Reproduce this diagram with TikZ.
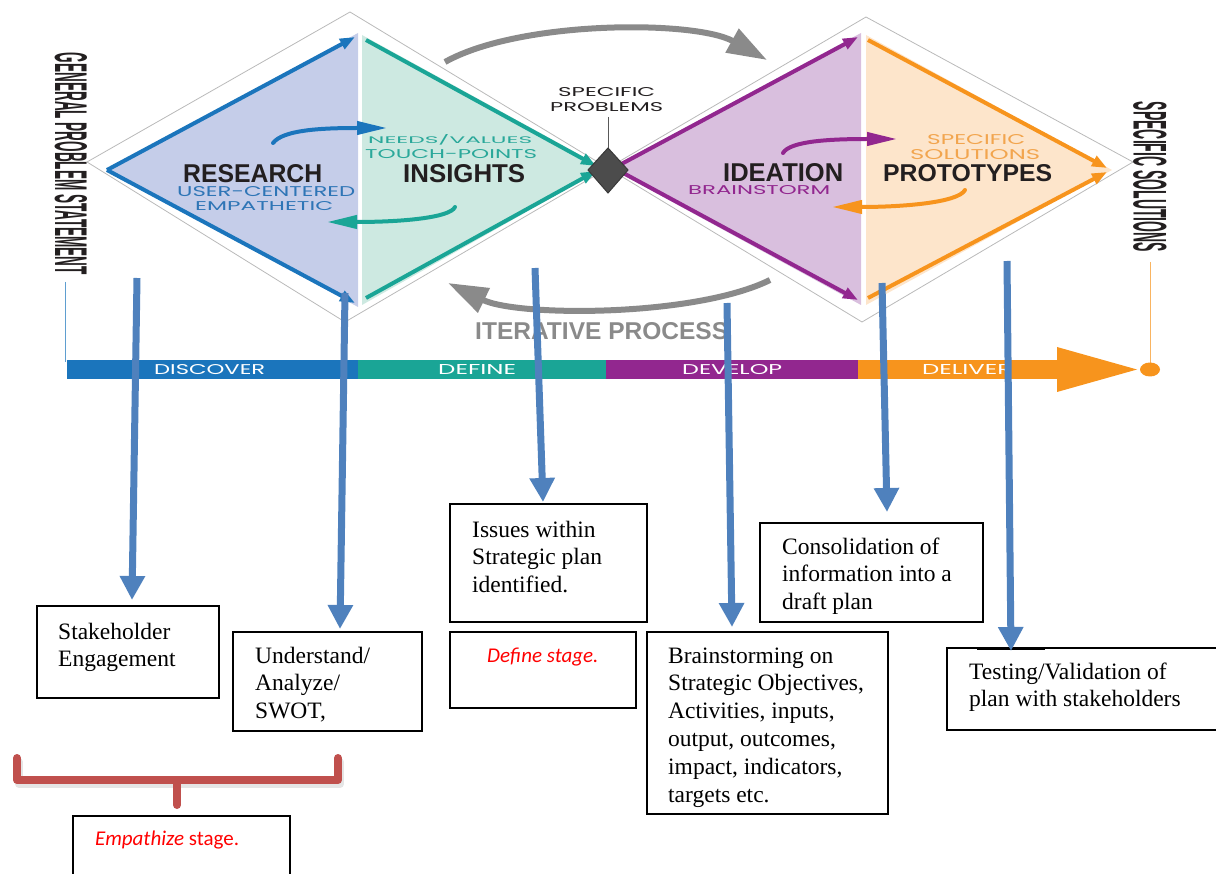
\documentclass[tikz,border=0pt]{standalone}
\usepackage{fontspec}
\usepackage{graphicx}
\setmainfont{Liberation Serif}
\newfontfamily\hdfont{Liberation Sans}
\newfontfamily\geofont{Poppins}
\newfontfamily\calfont{Carlito}
\usetikzlibrary{arrows.meta}
\definecolor{cblue}{HTML}{1B75BC}
\definecolor{cteal}{HTML}{1AA596}
\definecolor{cpurple}{HTML}{92278F}
\definecolor{corange}{HTML}{F7941D}
\definecolor{fblue}{HTML}{C5CDE9}
\definecolor{fteal}{HTML}{CDE9E1}
\definecolor{fpurple}{HTML}{D9BFDE}
\definecolor{forange}{HTML}{FDE5CB}
\definecolor{lblue}{HTML}{2E75B6}
\definecolor{lteal}{HTML}{2AA89A}
\definecolor{lorange}{HTML}{F2A54E}
\definecolor{arrowblue}{HTML}{4F81BD}
\definecolor{itergray}{HTML}{8A8A8A}
\definecolor{darktext}{HTML}{231F20}
\definecolor{redtext}{HTML}{FF0000}
\definecolor{bracketred}{HTML}{C0504D}
\newcommand{\fitcap}[3]{\resizebox{#1pt}{#2pt}{#3}}
\newcommand{\stacklines}[1]{\vtop{\halign{##\hfil\cr#1\crcr}}}
\begin{document}
\begin{tikzpicture}[x=1pt,y=-1pt,
  outline/.style={draw=gray!55,line width=0.8pt},
  triline/.style={line width=4pt,-{Triangle[width=11pt,length=15pt]}},
  curvearrow/.style={line width=4pt,line cap=round,-{Triangle[width=13pt,length=30pt]}},
  iterarrow/.style={draw=itergray,line width=6pt,-{Triangle[width=26pt,length=40pt]}},
  bigarrow/.style={draw=arrowblue,line width=7pt,-{Triangle[width=24pt,length=24pt]}},
  box/.style={draw=black,line width=1.6pt,fill=white,inner sep=0pt},
  lbl/.style={inner sep=0pt,anchor=base west},
  boxtext/.style={inner sep=0pt,anchor=base west,font=\fontsize{23.5}{27.8}\selectfont},
  redtxt/.style={inner sep=0pt,anchor=base west,text=redtext,font=\calfont\fontsize{21}{25}\selectfont},
  bracket/.style={draw=bracketred,line width=8pt,line cap=round,line join=round}]
\useasboundingbox (0,0) rectangle (1216,874);

% outer diamonds
\coordinate (oL) at (87,162);
\coordinate (oT) at (350,12);
\coordinate (oB) at (345,322);
\coordinate (oC) at (608,168);
\coordinate (oT2) at (866,17);
\coordinate (oR) at (1133,162);
\coordinate (oB2) at (862,322);
\draw[outline] (oL) -- (oT) -- (oB2) -- (oR) -- (oT2) -- (oB) -- cycle;

% fills
\fill[fblue] (107,170) -- (358,33) -- (358,307) -- cycle;
\fill[fteal] (362,35) -- (604,168) -- (362,305) -- cycle;
\fill[fpurple] (610,168) -- (861,33) -- (861,305) -- cycle;
\fill[forange] (866,35) -- (1112,170) -- (866,305) -- cycle;

% iterative arcs
\draw[iterarrow] (445,62) .. controls (520,20) and (695,20) .. (767,60);
\draw[iterarrow] (770,280) .. controls (695,317) and (518,317) .. (448,283);

% triangle outlines
\coordinate (rL) at (107,170);
\draw[triline,cblue] (rL) -- (355,37);
\draw[triline,cblue] (rL) -- (355,303);
\draw[triline,cteal] (366,40) -- (596,166);
\draw[triline,cteal] (366,298) -- (596,171);
\coordinate (iL) at (614,168);
\draw[triline,cpurple] (iL) -- (858,37);
\draw[triline,cpurple] (iL) -- (858,300);
\draw[triline,corange] (868,40) -- (1107,168);
\draw[triline,corange] (868,298) -- (1107,172);

% center diamond and label
\draw[gray!70!black,line width=0.8pt] (608,117) -- (608,150);
\fill[gray!60!black,draw=gray!45!black,line width=1pt] (608,148) -- (628,170) -- (608,193) -- (588,170) -- cycle;
\node[lbl,text=darktext] (spec1) at (558,97) {\fitcap{97}{9}{\geofont SPECIFIC}};
\node[lbl,text=darktext] (spec2) at (550,112) {\fitcap{113}{9}{\geofont PROBLEMS}};

% headings
\node[lbl,text=darktext] (research) at (183,183) {\fitcap{139}{18}{\hdfont\bfseries RESEARCH}};
\node[lbl,text=lblue] (uc) at (177,197) {\fitcap{178}{10}{\geofont USER-CENTERED}};
\node[lbl,text=lblue] (emp) at (195,211) {\fitcap{138}{9}{\geofont EMPATHETIC}};
\node[lbl,text=darktext] (insights) at (403,183) {\fitcap{122}{18}{\hdfont\bfseries INSIGHTS}};
\node[lbl,text=lteal] (needs) at (368,144) {\fitcap{164}{9}{\geofont NEEDS/VALUES}};
\node[lbl,text=lteal] (touch) at (365,159) {\fitcap{172}{9}{\geofont TOUCH-POINTS}};
\node[lbl,text=darktext] (ideation) at (723,182) {\fitcap{120}{18}{\hdfont\bfseries IDEATION}};
\node[lbl,text=cpurple] (brain) at (688,195) {\fitcap{142}{9}{\geofont BRAINSTORM}};
\node[lbl,text=darktext] (proto) at (883,182) {\fitcap{169}{17}{\hdfont\bfseries PROTOTYPES}};
\node[lbl,text=lorange] (ss1) at (927,145) {\fitcap{98}{10}{\geofont SPECIFIC}};
\node[lbl,text=lorange] (ss2) at (910,160) {\fitcap{130}{10}{\geofont SOLUTIONS}};
\node[lbl,text=itergray] (iter) at (475,340) {\fitcap{253}{17}{\hdfont\bfseries ITERATIVE PROCESS}};

% curved arrows
\draw[curvearrow,cblue] (273,143) .. controls (283,130) and (320,128) .. (387,128);
\draw[curvearrow,cteal] (455,207) .. controls (450,218) and (400,222) .. (327,222);
\draw[curvearrow,cpurple] (783,153) .. controls (790,141) and (830,139) .. (897,139);
\draw[curvearrow,corange] (965,190) .. controls (958,203) and (900,207) .. (832,207);

% vertical labels
\node[inner sep=0pt,rotate=-90,text=darktext] (gps) at (71,164) {\fitcap{222}{32}{\hdfont\bfseries GENERAL PROBLEM STATEMENT}};
\node[inner sep=0pt,rotate=-90,text=darktext] (sps) at (1150,177) {\fitcap{150}{33}{\hdfont\bfseries SPECIFIC SOLUTIONS}};
\draw[cblue!70,line width=1pt] (65,282) -- (65,362);
\draw[corange!70,line width=1pt] (1150,262) -- (1150,368);

% phase bar
\fill[cblue] (67,360) rectangle (358,379);
\fill[cteal] (358,360) rectangle (606,379);
\fill[cpurple] (606,360) rectangle (858,379);
\fill[corange] (858,360) rectangle (1060,379);
\fill[corange] (1057,347) -- (1137,369.5) -- (1057,392) -- cycle;
\fill[corange] (1150,369.5) ellipse [x radius=10pt, y radius=7pt];
\node[lbl,text=white] (disc) at (154,374.5) {\fitcap{111}{10}{\geofont DISCOVER}};
\node[lbl,text=white] (defi) at (438,374.5) {\fitcap{78}{10}{\geofont DEFINE}};
\node[lbl,text=white] (deve) at (682,374.5) {\fitcap{100}{10}{\geofont DEVELOP}};
\node[lbl,text=white] (deli) at (922,374.5) {\fitcap{90}{10}{\geofont DELIVER}};

% boxes
\node[box,minimum width=182pt,minimum height=92pt] (b1) at (128,652) {};
\node[box,minimum width=189pt,minimum height=99pt] (b2) at (327.5,681.5) {};
\node[box,minimum width=197pt,minimum height=118pt] (b3) at (548.5,563) {};
\node[box,minimum width=186pt,minimum height=76pt] (b4) at (543,670) {};
\node[box,minimum width=223pt,minimum height=99pt] (b5) at (871.5,572.5) {};
\node[box,minimum width=241pt,minimum height=182pt] (b6) at (767.5,723) {};
\node[box,minimum width=283pt,minimum height=82pt] (b7) at (1088.5,689) {};
\node[box,minimum width=217pt,minimum height=84pt] (b8) at (181.5,858) {};
\draw[line width=3pt] (977,648) -- (1045,648);

\node[boxtext] (t1) at (58,639) {\stacklines{Stakeholder\cr Engagement}};
\node[boxtext] (t2) at (255,663) {\stacklines{Understand/\cr Analyze/\cr SWOT,}};
\node[boxtext] (t3) at (472,537) {\stacklines{Issues within\cr Strategic plan\cr identified.}};
\node[redtxt] (t4) at (487,662) {\itshape Define stage.};
\node[boxtext] (t5) at (782,554) {\stacklines{Consolidation of\cr information into a\cr draft plan}};
\node[boxtext] (t6) at (668,663) {\stacklines{Brainstorming on\cr Strategic Objectives,\cr Activities, inputs,\cr output, outcomes,\cr impact, indicators,\cr targets etc.}};
\node[boxtext] (t7) at (969,679) {\stacklines{Testing/Validation of\cr plan with stakeholders}};
\node[redtxt] (t8) at (95,845) {\textit{Empathize} stage.};

% bracket
\draw[bracket,draw=gray!40,opacity=0.5] (19,762) -- (19,784) -- (340,784) -- (340,762);
\draw[bracket] (17,758) -- (17,780) -- (338,780) -- (338,758);
\draw[bracket] (177,780) -- (177,805);

% blue arrows
\coordinate (s1) at (137,278); \coordinate (e1) at (132,600);
\coordinate (s2) at (345,293); \coordinate (e2) at (340,629);
\coordinate (s3) at (535,268); \coordinate (e3) at (543,502);
\coordinate (s4) at (727,303); \coordinate (e4) at (732,627);
\coordinate (s5) at (882,283); \coordinate (e5) at (887,512);
\coordinate (s6) at (1007,261); \coordinate (e6) at (1011,651);
\draw[bigarrow] (s1) -- (e1);
\draw[bigarrow] (s2) -- (e2);
\draw[bigarrow] (s3) -- (e3);
\draw[bigarrow] (s4) -- (e4);
\draw[bigarrow] (s5) -- (e5);
\draw[bigarrow] (s6) -- (e6);
\end{tikzpicture}
\end{document}
